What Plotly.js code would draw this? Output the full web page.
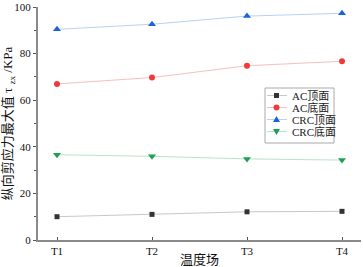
<!DOCTYPE html>
<html><head><meta charset="utf-8">
<script src="https://cdn.plot.ly/plotly-3.0.1.min.js"></script>
<style>html,body{margin:0;padding:0;background:#fff;}#c{width:363px;height:267px;}</style>
</head><body><div id="c"></div>
<script>
var categories = ["T1","T2","T3","T4"];
var seriesNames = ["AC顶面","AC底面","CRC顶面","CRC底面"];
var acTop = [10.0, 11.0, 12.1, 12.3];
var acBottom = [67.0, 69.7, 74.8, 76.7];
var crcTop = [90.4, 92.6, 96.1, 97.3];
var crcBottom = [36.6, 35.9, 34.8, 34.3];
var yTicks = [0,20,40,60,80,100];

var serif = '"Liberation Serif","Times New Roman","Noto Sans CJK SC",serif';
var styles = [
  {m:'#333333', l:'#c8c8c8', sym:'square', size:5},
  {m:'#f03a3a', l:'#f6c0c0', sym:'circle', size:6},
  {m:'#1a62e0', l:'#b8d2f4', sym:'triangle-up', size:7},
  {m:'#1fa050', l:'#b8e4c8', sym:'triangle-down', size:7}
];
var values = [acTop, acBottom, crcTop, crcBottom];
var data = values.map(function(v,i){
  var s = styles[i];
  return {x:categories, y:v, name:seriesNames[i], type:'scatter', mode:'lines+markers',
    line:{color:s.l, width:1}, marker:{symbol:s.sym, color:s.m, size:s.size}};
});

// plot area in pixels
var M = {l:38, r:2, t:7, b:27}, W = 363, H = 267;
var pw = W - M.l - M.r, ph = H - M.t - M.b;
function px(x){ return (x - M.l)/pw; }
function py(y){ return (H - M.b - y)/ph; }

// manual compact legend
var shapes = [], annotations = [];
shapes.push({type:'rect', xref:'paper', yref:'paper', x0:px(265), x1:px(334), y0:py(88), y1:py(143),
  line:{color:'#aaaaaa', width:1}, fillcolor:'#ffffff', layer:'above'});
var rowY = [95.5, 107.5, 119.5, 131.5];
seriesNames.forEach(function(n,i){
  var s = styles[i], yy = rowY[i], cx = 276.5;
  shapes.push({type:'line', xref:'paper', yref:'paper', x0:px(267), x1:px(287), y0:py(yy), y1:py(yy),
    line:{color:s.l, width:1}, layer:'above'});
  var r;
  if (s.sym === 'square') { r = 2.5;
    shapes.push({type:'rect', xref:'paper', yref:'paper', x0:px(cx-r), x1:px(cx+r), y0:py(yy-r), y1:py(yy+r),
      line:{width:0}, fillcolor:s.m, layer:'above'});
  } else if (s.sym === 'circle') { r = 3;
    shapes.push({type:'circle', xref:'paper', yref:'paper', x0:px(cx-r), x1:px(cx+r), y0:py(yy-r), y1:py(yy+r),
      line:{width:0}, fillcolor:s.m, layer:'above'});
  } else {
    var up = s.sym === 'triangle-up', h = 3.5;
    var p = up ? [[cx-3.5,yy+2.5],[cx+3.5,yy+2.5],[cx,yy-3.5]] : [[cx-3.5,yy-2.5],[cx+3.5,yy-2.5],[cx,yy+3.5]];
    var path = 'M' + p.map(function(q){ return px(q[0]) + ',' + py(q[1]); }).join(' L') + ' Z';
    shapes.push({type:'path', xref:'paper', yref:'paper', path:path, line:{width:0}, fillcolor:s.m, layer:'above'});
  }
  annotations.push({xref:'paper', yref:'paper', x:px(290), y:py(yy), xanchor:'left', yanchor:'middle',
    text:n, showarrow:false, font:{family:serif, size:11, color:'#222'}});
});

var layout = {
  width:W, height:H,
  margin:M,
  paper_bgcolor:'#fff', plot_bgcolor:'#fff',
  font:{family:serif, size:11, color:'#111'},
  showlegend:false,
  shapes:shapes, annotations:annotations,
  xaxis:{type:'category', range:[-0.2,3.2], showline:true, linecolor:'#8a8a8a', linewidth:2,
    ticks:'inside', ticklen:3, tickcolor:'#555', showgrid:false, zeroline:false,
    tickfont:{family:serif, size:11},
    title:{text:'温度场', font:{family:serif, size:13}, standoff:3}},
  yaxis:{range:[0,100], tickvals:yTicks, showline:true, linecolor:'#8a8a8a', linewidth:2,
    ticks:'outside', ticklen:3, tickcolor:'#555', showgrid:false, zeroline:false,
    tickfont:{family:serif, size:11},
    minor:{ticks:'outside', dtick:10, ticklen:2, tickcolor:'#555'},
    title:{text:'纵向剪应力最大值 τ <sub>zx</sub> /KPa', font:{family:serif, size:13}, standoff:6}}
};
Plotly.newPlot('c', data, layout, {staticPlot:true, displayModeBar:false});
</script></body></html>
